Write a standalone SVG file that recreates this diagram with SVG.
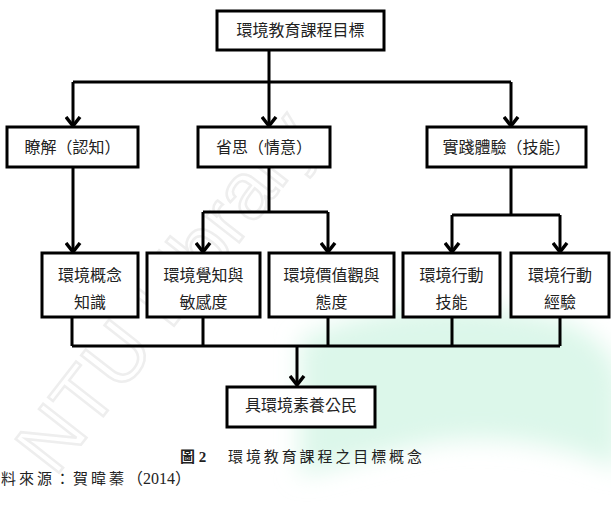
<svg xmlns="http://www.w3.org/2000/svg" width="611" height="518" viewBox="0 0 611 518">
  <style>
    .box { fill: #ffffff; stroke: #000000; stroke-width: 3; }
    .lbl { font-family: "Liberation Serif", "Noto Sans CJK TC", serif; font-size: 16px; fill: #222222; text-anchor: middle; }
    .ln { fill: none; stroke: #000000; stroke-width: 3; stroke-linejoin: miter; }
    .arr { marker-end: url(#ah); }
    .cap { font-family: "Liberation Serif", "Noto Sans CJK TC", serif; font-size: 15px; fill: #222222; }
    .wm { font-family: "Liberation Sans", sans-serif; font-size: 80px; fill: none; stroke: #eeeeee; stroke-width: 2.5; }
  </style>
  <defs>
    <marker id="ah" markerUnits="userSpaceOnUse" markerWidth="20" markerHeight="20" viewBox="-10 -12 20 20" refX="0" refY="0" orient="auto">
      <path d="M-9,-7 L0,0 L-9,7" fill="none" stroke="#000" stroke-width="3.5"/>
    </marker>
    <filter id="soft" x="-20%" y="-20%" width="140%" height="140%">
      <feGaussianBlur stdDeviation="12"/>
    </filter>
  </defs>
  <rect x="0" y="0" width="611" height="518" fill="#ffffff"/>
  <g id="watermark">
    <g filter="url(#soft)">
      <path d="M300,340 C380,300 480,300 560,320 C600,335 620,360 620,390 L620,470 C570,445 490,430 420,445 C370,455 330,470 300,475 Z" fill="#dcf7ea"/>
    </g>
    <text class="wm" x="55" y="478" transform="rotate(-52 55 478)">NTU Library</text>
  </g>
  <g id="connectors">
    <path class="ln" d="M269,50 V82 M73,82 H511"/>
    <path class="ln arr" d="M73,82 V126"/>
    <path class="ln arr" d="M269,82 V126"/>
    <path class="ln arr" d="M511,82 V126"/>
    <path class="ln arr" d="M73,167 V252"/>
    <path class="ln" d="M269,167 V212 M203,212 H328"/>
    <path class="ln arr" d="M203,212 V252"/>
    <path class="ln arr" d="M328,212 V252"/>
    <path class="ln" d="M511,167 V215 M452,215 H560"/>
    <path class="ln arr" d="M452,215 V252"/>
    <path class="ln arr" d="M560,215 V252"/>
    <path class="ln" d="M72,317 V346 M203,317 V346 M328,317 V346 M452,317 V346 M560,317 V346 M72,346 H560"/>
    <path class="ln arr" d="M297,346 V385"/>
  </g>
  <g id="n-goal">
    <rect class="box" x="217" y="11" width="167" height="39"/>
    <text class="lbl" x="300.5" y="36">環境教育課程目標</text>
  </g>
  <g id="n-cognitive">
    <rect class="box" x="7" y="127" width="131" height="40"/>
    <text class="lbl" x="72.5" y="153">瞭解（認知）</text>
  </g>
  <g id="n-affective">
    <rect class="box" x="198" y="127" width="132" height="40"/>
    <text class="lbl" x="264" y="153">省思（情意）</text>
  </g>
  <g id="n-skill">
    <rect class="box" x="427" y="127" width="159" height="40"/>
    <text class="lbl" x="506.5" y="153">實踐體驗（技能）</text>
  </g>
  <g id="n-concept">
    <rect class="box" x="42" y="253" width="96" height="64"/>
    <text class="lbl" x="90" y="281">環境概念</text>
    <text class="lbl" x="90" y="308">知識</text>
  </g>
  <g id="n-awareness">
    <rect class="box" x="147" y="253" width="113" height="64"/>
    <text class="lbl" x="203.5" y="281">環境覺知與</text>
    <text class="lbl" x="203.5" y="308">敏感度</text>
  </g>
  <g id="n-values">
    <rect class="box" x="269" y="253" width="125" height="64"/>
    <text class="lbl" x="331.5" y="281">環境價值觀與</text>
    <text class="lbl" x="331.5" y="308">態度</text>
  </g>
  <g id="n-actskill">
    <rect class="box" x="403" y="253" width="97" height="64"/>
    <text class="lbl" x="451.5" y="281">環境行動</text>
    <text class="lbl" x="451.5" y="308">技能</text>
  </g>
  <g id="n-actexp">
    <rect class="box" x="511" y="253" width="98" height="64"/>
    <text class="lbl" x="560" y="281">環境行動</text>
    <text class="lbl" x="560" y="308">經驗</text>
  </g>
  <g id="n-citizen">
    <rect class="box" x="227" y="387" width="148" height="40"/>
    <text class="lbl" x="301" y="411">具環境素養公民</text>
  </g>
  <g id="caption">
    <text class="cap" x="180" y="462" font-weight="bold">圖 2</text>
    <text class="cap" x="228" y="462" textLength="194" lengthAdjust="spacing">環境教育課程之目標概念</text>
    <text class="cap" x="1" y="484"><tspan letter-spacing="3">料來源：賀暐蓁</tspan><tspan font-size="16">（2014）</tspan></text>
  </g>
</svg>
